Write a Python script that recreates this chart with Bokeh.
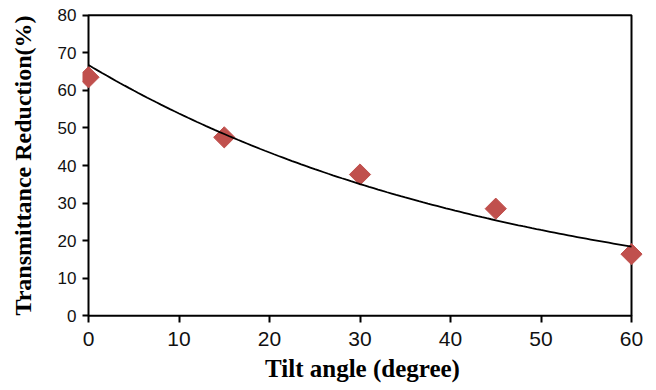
import numpy as np
from bokeh.plotting import figure
from bokeh.models import Range1d, FixedTicker
from bokeh.embed import file_html
from bokeh.resources import INLINE

# Data
tilt_angle = [0, 15, 30, 45, 60]
transmittance_reduction = [63.5, 47.5, 37.6, 28.5, 16.4]
x_ticks = [0, 10, 20, 30, 40, 50, 60]
y_ticks = [0, 10, 20, 30, 40, 50, 60, 70, 80]

# Exponential trendline fitted to the data (least squares on log values)
coef = np.polyfit(tilt_angle, np.log(transmittance_reduction), 1)
fit_x = np.linspace(x_ticks[0], x_ticks[-1], 121)
fit_y = np.exp(coef[1] + coef[0] * fit_x)

p = figure(width=656, height=390, output_backend="svg", toolbar_location=None,
           x_range=Range1d(-0.663, 61.215), y_range=Range1d(-1, 81),
           min_border_left=82, min_border_right=14, min_border_top=11,
           min_border_bottom=71)
p.outline_line_color = None
p.grid.visible = False
p.background_fill_color = "white"
p.border_fill_color = "white"

for ax, ticks in ((p.xaxis, x_ticks), (p.yaxis, y_ticks)):
    ax.ticker = FixedTicker(ticks=ticks)
    ax.axis_line_color = None
    ax.major_tick_line_color = "black"
    ax.major_tick_line_width = 2
    ax.minor_tick_line_color = None
    ax.major_label_text_font = "Liberation Sans"
    ax.major_label_text_color = "#111111"
    ax.axis_label_text_font = "Liberation Serif"
    ax.axis_label_text_font_style = "bold"
    ax.axis_label_text_color = "black"

p.xaxis.major_tick_in = 4
p.xaxis.major_tick_out = 3
p.yaxis.major_tick_in = 6
p.yaxis.major_tick_out = 0
p.xaxis.major_label_text_font_size = "21px"
p.yaxis.major_label_text_font_size = "17px"
p.xaxis.major_label_standoff = 9
p.yaxis.major_label_standoff = 6
p.xaxis.axis_label = "Tilt angle (degree)"
p.yaxis.axis_label = "Transmittance Reduction(%)"
p.xaxis.axis_label_text_font_size = "25px"
p.yaxis.axis_label_text_font_size = "24px"
p.xaxis.axis_label_standoff = 6
p.yaxis.axis_label_standoff = 19

# Plot box
p.quad(left=x_ticks[0], right=x_ticks[-1], bottom=y_ticks[0], top=y_ticks[-1],
       fill_color=None, line_color="black", line_width=2)

p.scatter(tilt_angle, transmittance_reduction, marker="square", angle=np.pi / 4,
          size=15, fill_color="#C0504D", line_color="#C0504D")
p.line(fit_x, fit_y, line_color="black", line_width=1.8)

open("out.html", "w").write(file_html(p, INLINE))
